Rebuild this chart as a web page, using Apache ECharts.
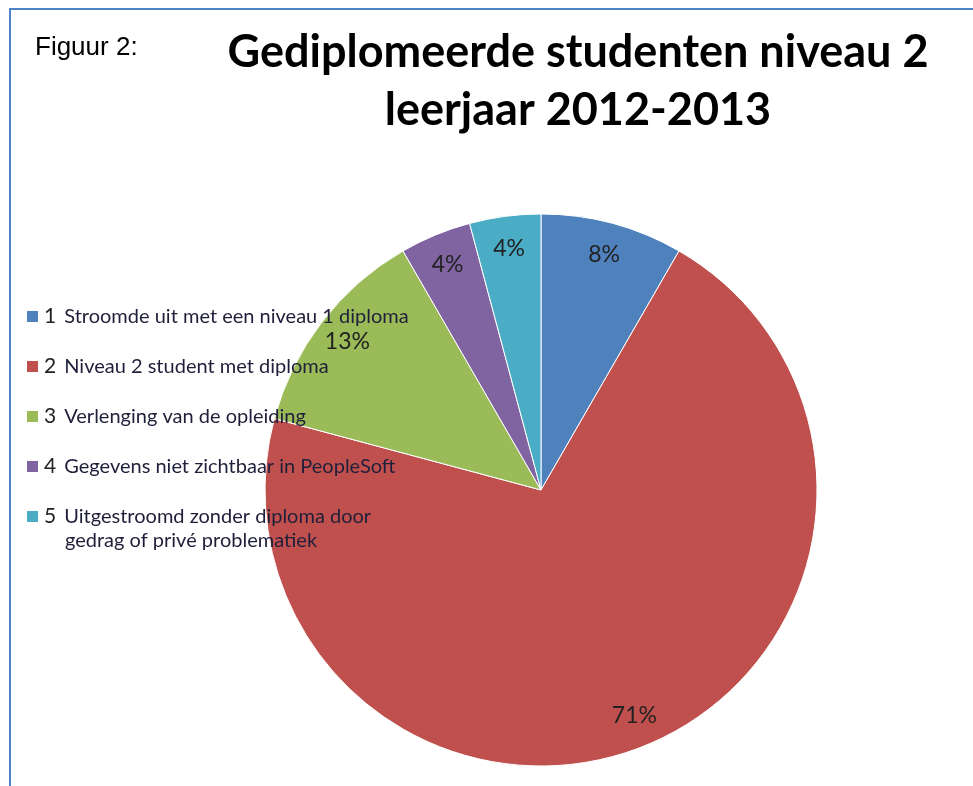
<!DOCTYPE html>
<html>
<head>
<meta charset="utf-8">
<title>Gediplomeerde studenten niveau 2</title>
<script src="https://cdn.jsdelivr.net/npm/echarts@6/dist/echarts.min.js"></script>
<style>
  html, body {
    margin: 0;
    padding: 0;
    background: #fff;
  }
  .frame {
    position: absolute;
    left: 9px;
    top: 8px;
    width: 980px;
    height: 800px;
    border-left: 2px solid #4f85c4;
    border-top: 2px solid #4f85c4;
  }
  #chart {
    position: absolute;
    left: 0;
    top: 0;
    width: 973px;
    height: 786px;
  }
</style>
</head>
<body>
<div class="frame"></div>
<div id="chart"></div>
<script>
// data (aantallen studenten)
var categories = [
  'Stroomde uit met een niveau 1 diploma',
  'Niveau 2 student met diploma',
  'Verlenging van de opleiding',
  'Gegevens niet zichtbaar in PeopleSoft',
  'Uitgestroomd zonder diploma door gedrag of privé problematiek'
];
var counts = [2, 17, 3, 1, 1];
var colors = ['#4f81bd', '#c0504d', '#9bbb59', '#8064a2', '#4bacc6'];

var pieData = categories.map(function (name, i) {
  return { name: name, value: counts[i] };
});

let chart = echarts.init(document.getElementById('chart'));

let option = {
  animation: false,
  color: colors,
  title: [
    {
      text: 'Figuur 2:',
      left: 35,
      top: 35,
      padding: 0,
      textStyle: {
        fontFamily: 'Liberation Sans',
        fontWeight: 'normal',
        fontSize: 26,
        color: '#000'
      }
    },
    {
      text: 'Gediplomeerde studenten niveau 2\nleerjaar 2012-2013',
      left: 578,
      top: 23,
      padding: 0,
      textAlign: 'center',
      textStyle: {
        fontFamily: 'Lato',
        fontWeight: 'bold',
        fontSize: 45,
        lineHeight: 58,
        color: '#000'
      }
    }
  ],
  legend: {
    orient: 'vertical',
    left: 25,
    top: 306,
    padding: 0,
    icon: 'rect',
    itemWidth: 13,
    itemHeight: 13,
    itemGap: 29,
    data: categories.map(function (name, i) {
      var item = { name: name };
      // tweede regel van item 5: bovenste regel naast het blokje houden
      if (i === 4) item.textStyle = { padding: [28, 0, 0, 0] };
      return item;
    }),
    formatter: function (name) {
      var i = categories.indexOf(name);
      if (i === 4) {
        return '{n|5} {t|Uitgestroomd zonder diploma door}\n{t2|gedrag of privé problematiek}';
      }
      return '{n|' + (i + 1) + '} {t|' + name + '}';
    },
    textStyle: {
      color: '#222',
      fontFamily: 'Lato',
      rich: {
        n: { fontFamily: 'Lato', fontSize: 21, lineHeight: 20, color: '#222', padding: [0, 5, 0, 0] },
        t: { fontFamily: 'Lato', fontSize: 20, lineHeight: 20, color: '#1f1f3a' },
        t2: { fontFamily: 'Lato', fontSize: 20, lineHeight: 28, color: '#1f1f3a', padding: [0, 0, 0, 21] }
      }
    }
  },
  series: [
    {
      name: 'studenten',
      type: 'pie',
      center: [541, 490],
      radius: [0, 276],
      startAngle: 90,
      clockwise: true,
      data: pieData,
      label: { show: false },
      labelLine: { show: false },
      itemStyle: {
        borderColor: '#ffffff',
        borderWidth: 1
      },
      emphasis: { scale: false }
    },
    {
      // alleen voor de percentages, dicht bij de rand zoals in Excel
      name: 'labels',
      type: 'pie',
      silent: true,
      center: [541, 490],
      radius: [206, 276],
      startAngle: 90,
      clockwise: true,
      data: pieData,
      itemStyle: { color: 'transparent' },
      labelLine: { show: false },
      label: {
        show: true,
        position: 'inside',
        fontFamily: 'Lato',
        fontSize: 23,
        color: '#222',
        formatter: function (p) {
          return Math.round(p.percent) + '%';
        }
      },
      emphasis: { disabled: true }
    }
  ]
};

chart.setOption(option, true);
</script>
</body>
</html>
